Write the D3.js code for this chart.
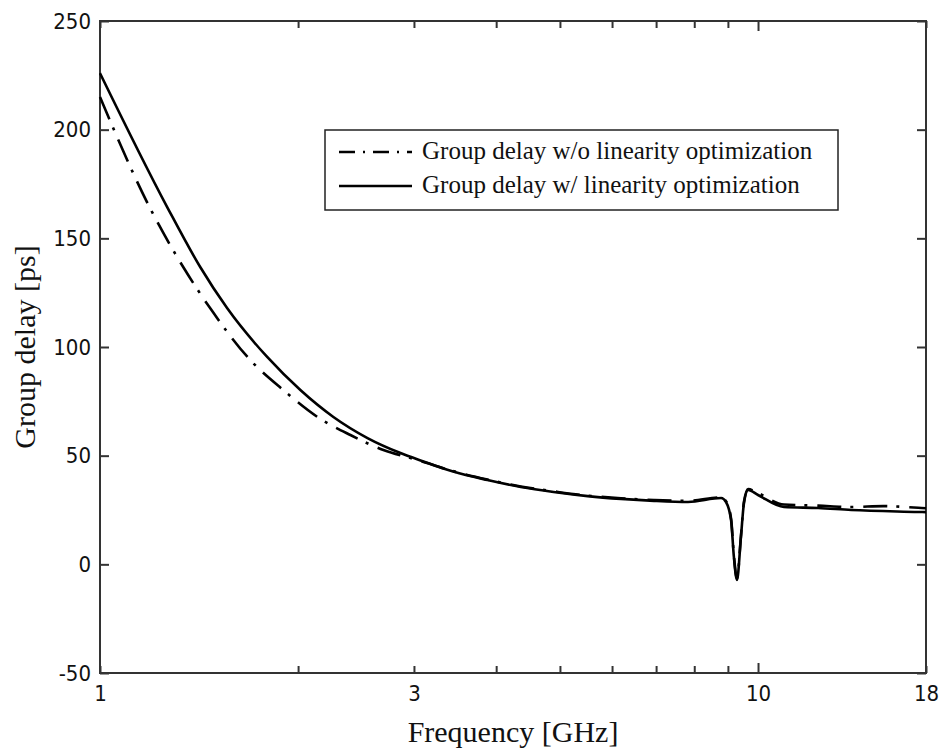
<!DOCTYPE html>
<html>
<head>
<meta charset="utf-8">
<script src="https://cdn.jsdelivr.net/npm/d3@7.9.0/dist/d3.min.js"></script>
<style>
  body { margin: 0; background: #fff; }
  svg { display: block; }
</style>
</head>
<body>
<svg id="chart" width="941" height="749"></svg>
<script>
// values
const freqWith = [1, 1.265, 1.42, 1.56, 1.795, 2.016, 2.263, 2.55, 2.862, 3.07, 3.213, 3.45, 3.88, 4.36, 4.89, 5.51, 6.19, 6.95, 7.83, 8.79, 8.94, 9.10, 9.19, 9.29, 9.42, 9.52, 9.66, 10.0, 10.95, 12.34, 13.86, 17.52, 18];
const delayWith = [226, 164.4, 136.8, 117.9, 95.4, 80.2, 67.8, 58.1, 51.2, 47.8, 45.7, 42.6, 38.8, 35.6, 33.3, 31.4, 30.1, 29.2, 28.7, 30.5, 28.7, 20.4, 3.4, -7.2, 12.6, 28.2, 34.2, 31.9, 26.4, 25.9, 25.0, 24.1, 24];

const freqWithout = [1, 1.191, 1.338, 1.470, 1.692, 1.899, 2.140, 2.402, 2.696, 3.038, 3.45, 3.88, 4.36, 4.89, 5.51, 6.19, 6.95, 7.83, 8.79, 8.94, 9.10, 9.19, 9.29, 9.42, 9.52, 9.66, 10.0, 10.95, 12.34, 13.86, 15.5, 17.52, 18];
const delayWithout = [215, 164.0, 136.8, 117.9, 94.0, 80.2, 67.8, 59.5, 52.6, 48.0, 42.8, 39.0, 35.8, 33.6, 31.6, 30.4, 29.6, 29.2, 30.8, 29.0, 21.0, 4.0, -6.5, 13.0, 28.8, 34.6, 32.8, 27.5, 27.0, 26.4, 26.8, 26.0, 25.8];

const xTickValues = [1, 2, 3, 4, 5, 6, 7, 8, 9, 10, 18];
const xTickLabels = [1, 3, 10, 18];
const yTickValues = [-50, 0, 50, 100, 150, 200, 250];

const legendLabels = ['Group delay w/o linearity optimization', 'Group delay w/ linearity optimization'];

const margin = { left: 100, right: 15, top: 21, bottom: 76 };
const width = 941, height = 749;

const svg = d3.select('#chart');

const x = d3.scaleLog()
  .domain([1, 18])
  .range([margin.left, width - margin.right]);

const y = d3.scaleLinear()
  .domain([-50, 250])
  .range([height - margin.bottom, margin.top]);

const tickFont = '"DejaVu Sans Condensed", "DejaVu Sans", sans-serif';
const serifFont = '"Liberation Serif", "Times New Roman", serif';

// axes with inward ticks on all four sides
const bottomAxis = d3.axisBottom(x)
  .tickValues(xTickValues)
  .tickSizeInner(-7)
  .tickSizeOuter(0)
  .tickFormat((d) => (xTickLabels.includes(d) ? d : ''));

const topAxis = d3.axisTop(x)
  .tickValues(xTickValues)
  .tickSizeInner(-7)
  .tickSizeOuter(0)
  .tickFormat('');

const leftAxis = d3.axisLeft(y)
  .tickValues(yTickValues)
  .tickSizeInner(-9)
  .tickSizeOuter(0)
  .tickFormat((d) => String(d));

const rightAxis = d3.axisRight(y)
  .tickValues(yTickValues)
  .tickSizeInner(-9)
  .tickSizeOuter(0)
  .tickFormat('');

function styleAxis(g) {
  g.select('.domain').remove();
  g.selectAll('.tick line').attr('stroke', '#333').attr('stroke-width', 2);
  g.selectAll('.tick text')
    .attr('fill', '#111')
    .style('font-family', tickFont)
    .style('font-size', '22px');
}

svg.append('g')
  .attr('transform', `translate(0,${y(-50)})`)
  .call(bottomAxis)
  .call(styleAxis)
  .call((g) => g.selectAll('.tick text').attr('y', 12).attr('dy', '0.71em'))
  .call((g) => g.selectAll('.tick').filter((d) => d === 10).select('line').attr('y2', -10));

svg.append('g')
  .attr('transform', `translate(0,${y(250)})`)
  .call(topAxis)
  .call(styleAxis)
  .call((g) => g.selectAll('.tick').filter((d) => d === 10).select('line').attr('y2', 10));

svg.append('g')
  .attr('transform', `translate(${x(1)},0)`)
  .call(leftAxis)
  .call(styleAxis)
  .call((g) => g.selectAll('.tick text').attr('x', -9));

svg.append('g')
  .attr('transform', `translate(${x(18)},0)`)
  .call(rightAxis)
  .call(styleAxis);

// frame
svg.append('rect')
  .attr('x', x(1))
  .attr('y', y(250))
  .attr('width', x(18) - x(1))
  .attr('height', y(-50) - y(250))
  .attr('fill', 'none')
  .attr('stroke', '#333')
  .attr('stroke-width', 2);

// curves
const line = d3.line()
  .x((d) => x(d[0]))
  .y((d) => y(d[1]))
  .curve(d3.curveMonotoneX);

const seriesWithout = d3.zip(freqWithout, delayWithout);
const seriesWith = d3.zip(freqWith, delayWith);

svg.append('path')
  .datum(seriesWithout)
  .attr('d', line)
  .attr('fill', 'none')
  .attr('stroke', '#000')
  .attr('stroke-width', 2.6)
  .attr('stroke-dasharray', '24,9,3,10');

svg.append('path')
  .datum(seriesWith)
  .attr('d', line)
  .attr('fill', 'none')
  .attr('stroke', '#000')
  .attr('stroke-width', 2.6);

// axis titles
svg.append('text')
  .attr('x', (x(1) + x(18)) / 2)
  .attr('y', 742)
  .attr('text-anchor', 'middle')
  .style('font-family', serifFont)
  .style('font-size', '30px')
  .attr('fill', '#111')
  .text('Frequency [GHz]');

svg.append('text')
  .attr('transform', `translate(35,${(y(250) + y(-50)) / 2}) rotate(-90)`)
  .attr('text-anchor', 'middle')
  .style('font-family', serifFont)
  .style('font-size', '30px')
  .attr('fill', '#111')
  .text('Group delay [ps]');

// legend
const legend = svg.append('g');

legend.append('rect')
  .attr('x', 325)
  .attr('y', 130)
  .attr('width', 513)
  .attr('height', 80)
  .attr('fill', '#fff')
  .attr('stroke', '#222')
  .attr('stroke-width', 1.5);

const legendDash = ['16,8,2,8', null];

legendLabels.forEach((label, i) => {
  const ly = 152 + i * 34;
  legend.append('line')
    .attr('x1', 339)
    .attr('x2', 412)
    .attr('y1', ly)
    .attr('y2', ly)
    .attr('stroke', '#000')
    .attr('stroke-width', 2.6)
    .attr('stroke-dasharray', legendDash[i]);
  legend.append('text')
    .attr('x', 422)
    .attr('y', ly + 7)
    .style('font-family', serifFont)
    .style('font-size', '25px')
    .attr('fill', '#111')
    .text(label);
});
</script>
</body>
</html>
